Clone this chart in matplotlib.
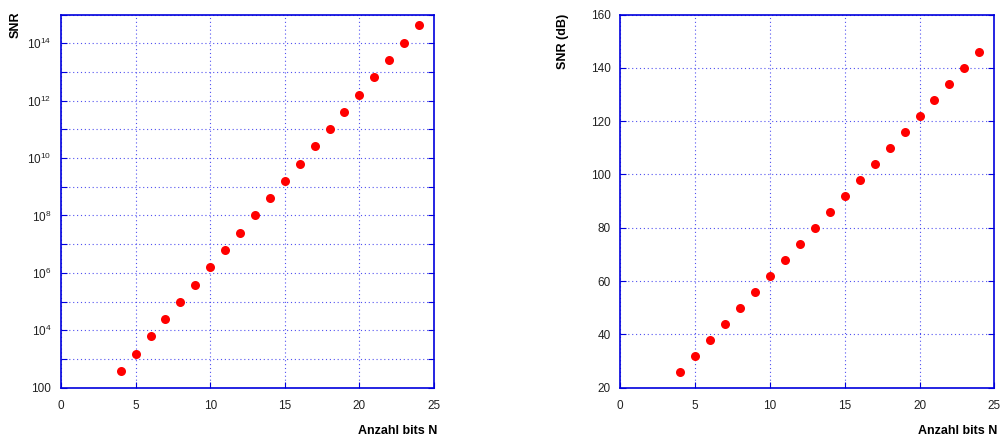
import numpy as np
import matplotlib
matplotlib.use("Agg")
import matplotlib.pyplot as plt
import matplotlib.ticker as mticker

plt.rcParams['font.family'] = ['Liberation Sans', 'DejaVu Sans']
plt.rcParams['mathtext.default'] = 'regular'

# values
bits = [4, 5, 6, 7, 8, 9, 10, 11, 12, 13, 14, 15, 16, 17, 18, 19, 20, 21, 22, 23, 24]
snr_lin = [3.8e2, 1.5e3, 6.1e3, 2.5e4, 9.8e4, 3.9e5, 1.6e6, 6.3e6, 2.5e7, 1.0e8, 4.0e8,
           1.6e9, 6.4e9, 2.6e10, 1.0e11, 4.1e11, 1.6e12, 6.6e12, 2.6e13, 1.05e14, 4.2e14]
snr_db = [26, 32, 38, 44, 50, 56, 62, 68, 74, 80, 86, 92, 98, 104, 110, 116, 122, 128, 134, 140, 146]

x_ticks = [0, 5, 10, 15, 20, 25]
log_labels = {2: "100", 4: r"$10^4$", 6: r"$10^6$", 8: r"$10^8$", 10: r"$10^{10}$",
              12: r"$10^{12}$", 14: r"$10^{14}$"}
db_ticks = [20, 40, 60, 80, 100, 120, 140, 160]

BLUE = '#0000dd'
W, H = 1000, 437


def style_axes(ax):
    for s in ax.spines.values():
        s.set_color(BLUE)
        s.set_linewidth(1.2)
    ax.tick_params(which='both', direction='in', color=BLUE, top=False, right=True,
                   labelsize=8.5, labelcolor='#222222')
    ax.tick_params(axis='x', pad=9)
    ax.tick_params(axis='y', pad=7)
    ax.tick_params(which='major', length=4)
    ax.grid(True, which='both', color='#3333ee', linestyle=(0, (1, 2.5)), linewidth=0.8,
            alpha=0.85)
    ax.set_xlim(0, 25)
    ax.set_xticks(x_ticks)


fig = plt.figure(figsize=(W / 100, H / 100), dpi=100)
ax1 = fig.add_axes([61 / W, 1 - 387.7 / H, 373 / W, 373.2 / H])
ax2 = fig.add_axes([620.3 / W, 1 - 387.7 / H, 374 / W, 373.2 / H])

# left: linear SNR on log scale
ax1.set_yscale('log')
ax1.plot(bits, snr_lin, 'o', color='#ff0000', markersize=6.5, markeredgewidth=0)
ax1.set_ylim(1e2, 1e15)
ax1.yaxis.set_major_locator(mticker.FixedLocator([10.0 ** k for k in range(2, 16)]))
ax1.yaxis.set_minor_locator(mticker.NullLocator())
ax1.yaxis.set_major_formatter(mticker.FuncFormatter(
    lambda v, p: log_labels.get(int(round(np.log10(v))), "")))
style_axes(ax1)

# right: SNR in dB
ax2.plot(bits, snr_db, 'o', color='#ff0000', markersize=6.5, markeredgewidth=0)
ax2.set_ylim(20, 160)
ax2.set_yticks(db_ticks)
style_axes(ax2)

# gnuplot-like axis labels
fig.text(16 / W, 1 - 12 / H, "SNR", rotation=90, ha='center', va='top',
         fontsize=9, fontweight='bold')
fig.text(563 / W, 1 - 14 / H, "SNR (dB)", rotation=90, ha='center', va='top',
         fontsize=9, fontweight='bold')
fig.text(437 / W, 1 - 431 / H, "Anzahl bits N", ha='right', va='center',
         fontsize=9, fontweight='bold')
fig.text(997 / W, 1 - 431 / H, "Anzahl bits N", ha='right', va='center',
         fontsize=9, fontweight='bold')

fig.savefig("out.png", dpi=100)
